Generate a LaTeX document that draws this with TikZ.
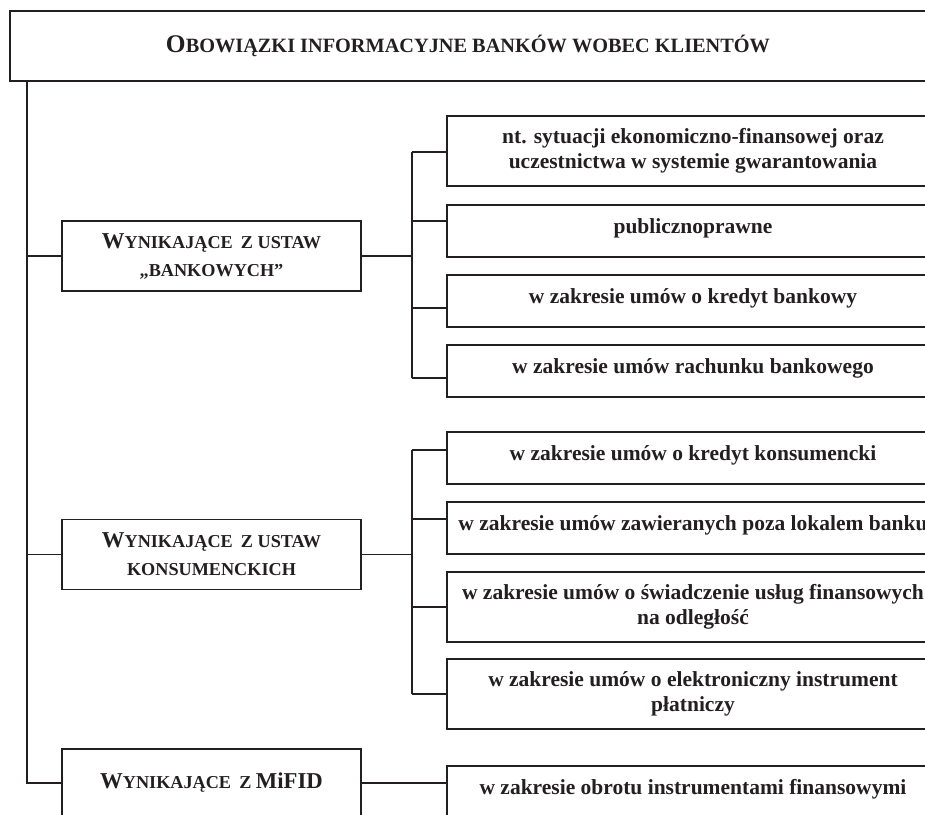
\documentclass[tikz,border=0pt]{standalone}
\usepackage{fontspec}
\setmainfont{Liberation Serif}
\definecolor{ink}{RGB}{35,31,32}
% fake small caps: first letter large, rest smaller
\newcommand{\Kap}[1]{{\fontsize{22.7}{28}\selectfont #1}}
\newcommand{\TKap}[1]{{\fontsize{25.4}{30}\selectfont #1}}

\begin{document}
\begin{tikzpicture}[x=1pt,y=-1pt,line width=1.1pt,color=ink,
  every node/.style={draw=ink,text=ink,inner sep=0pt,align=center},
  head/.style={minimum width=924,minimum height=70,
    font=\bfseries\fontsize{20.3}{30}\selectfont},
  grp/.style={minimum width=299,minimum height=70,
    font=\bfseries\fontsize{18.2}{28}\selectfont},
  itembox/.style={minimum width=492,
    font=\bfseries\fontsize{21.5}{24.5}\selectfont},
  one/.style={itembox,minimum height=52,text height=15pt,text depth=11pt},
  two/.style={itembox,minimum height=70}]
  \useasboundingbox (0,0) rectangle (925,814);
  \clip (0,0) rectangle (925,814);

  \node[head] (top) at (472,46) {\hspace*{-8pt}\TKap{O}BOWIĄZKI INFORMACYJNE BANKÓW WOBEC KLIENTÓW};

  \node[grp] (ust)   at (211.5,256)   {\Kap{W}YNIKAJĄCE\hspace{.45em}Z USTAW\\„BANKOWYCH”};
  \node[grp] (kons)  at (211.5,554.5) {\Kap{W}YNIKAJĄCE\hspace{.45em}Z USTAW\\KONSUMENCKICH};
  \node[grp,minimum height=68] (mifid) at (211.5,783) {\Kap{W}YNIKAJĄCE\hspace{.45em}Z \Kap{MiFID}};

  \node[two] (b1) at (693,151) {nt. sytuacji ekonomiczno-finansowej oraz\\uczestnictwa w systemie gwarantowania};
  \node[one] (b2) at (693,231) {publicznoprawne};
  \node[one] (b3) at (693,301) {w zakresie umów o kredyt bankowy};
  \node[one] (b4) at (693,371) {w zakresie umów rachunku bankowego};

  \node[one] (c1) at (693,458) {w zakresie umów o kredyt konsumencki};
  \node[one] (c2) at (693,528) {w zakresie umów zawieranych poza lokalem banku};
  \node[two] (c3) at (693,607) {w zakresie umów o świadczenie usług finansowych\\na odległość};
  \node[two] (c4) at (693,694) {w zakresie umów o elektroniczny instrument\\płatniczy};

  \node[one] (m1) at (693,792) {w zakresie obrotu instrumentami finansowymi};

  % trunk and branch points
  \coordinate (spine) at (27,0);
  \coordinate (a1) at (412,152); \coordinate (a2) at (412,221);
  \coordinate (a3) at (412,308); \coordinate (a4) at (412,378);
  \coordinate (k1) at (412,450); \coordinate (k2) at (412,519);
  \coordinate (k3) at (412,607); \coordinate (k4) at (412,694);

  \draw (spine |- top.south) -- (spine |- mifid.west) -- (mifid.west);
  \draw (spine |- ust.west) -- (ust.west);
  \draw (spine |- kons.west) -- (kons.west);

  \draw (ust.east) -- (a1 |- ust.east); \draw (a1) -- (a4);
  \draw (a1) -- (a1 -| b1.west); \draw (a2) -- (a2 -| b2.west);
  \draw (a3) -- (a3 -| b3.west); \draw (a4) -- (a4 -| b4.west);

  \draw (kons.east) -- (k1 |- kons.east); \draw (k1) -- (k4);
  \draw (k1) -- (k1 -| c1.west); \draw (k2) -- (k2 -| c2.west);
  \draw (k3) -- (k3 -| c3.west); \draw (k4) -- (k4 -| c4.west);

  \draw (mifid.east) -- (mifid.east -| m1.west);
\end{tikzpicture}
\end{document}
